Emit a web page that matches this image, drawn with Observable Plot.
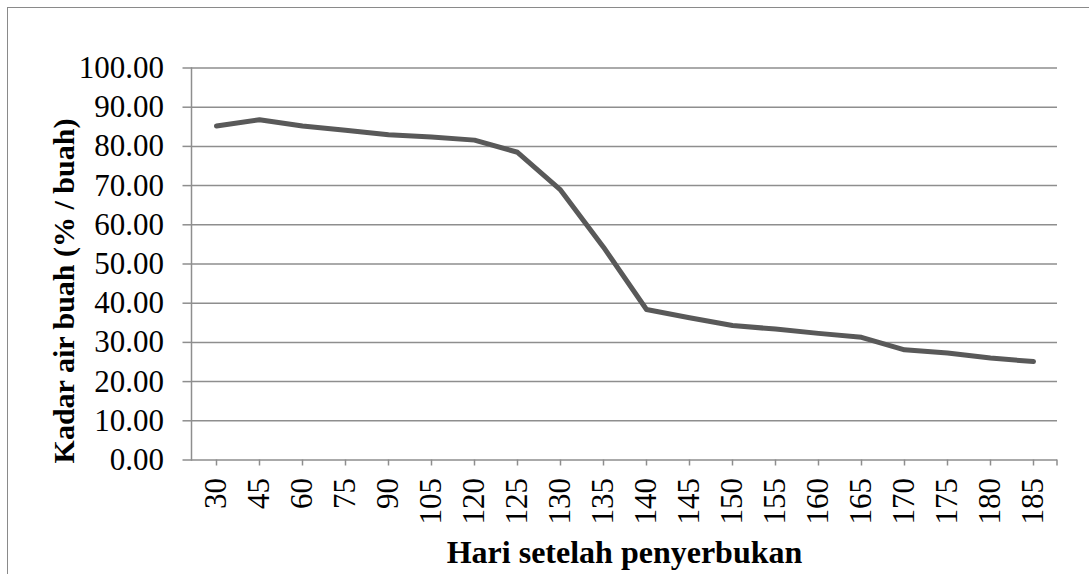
<!DOCTYPE html>
<html>
<head>
<meta charset="utf-8">
<script src="https://cdn.jsdelivr.net/npm/d3@7"></script>
<script src="https://cdn.jsdelivr.net/npm/@observablehq/plot@0.6"></script>
<style>
  html, body { margin: 0; padding: 0; background: #fff; }
  #wrap { position: relative; width: 1089px; height: 574px; overflow: hidden; }
  #border { position: absolute; left: 7px; top: 7px; right: -10px; bottom: -10px;
            border-left: 1.5px solid #8a8a8a; border-top: 1.5px solid #8a8a8a; pointer-events: none; }
  svg text { font-family: 'Liberation Serif', 'Times New Roman', serif; }
</style>
</head>
<body>
<div id="wrap"><div id="border"></div></div>
<script>
const days = ["30","45","60","75","90","105","120","125","130","135","140","145","150","155","160","165","170","175","180","185"];
const kadarAir = [85.2, 86.8, 85.2, 84.1, 83.0, 82.4, 81.6, 78.5, 68.9, 54.3, 38.4, 36.3, 34.3, 33.4, 32.3, 31.3, 28.1, 27.3, 26.0, 25.1];
const yTicks = [0, 10, 20, 30, 40, 50, 60, 70, 80, 90, 100];
const xTitle = "Hari setelah penyerbukan";
const yTitle = "Kadar air buah (% / buah)";

const data = days.map((d, i) => ({day: d, value: kadarAir[i]}));
const grid = "#8e8e8e";

// small closing tick at the right end of the category axis
function endTick(index, scales, values, dims) {
  const x = dims.width - dims.marginRight;
  const y = dims.height - dims.marginBottom;
  const g = d3.create("svg:g");
  g.append("line").attr("x1", x).attr("x2", x).attr("y1", y).attr("y2", y + 6)
    .attr("stroke", grid).attr("stroke-width", 1.5);
  return g.node();
}

const chart = Plot.plot({
  width: 1089,
  height: 574,
  marginLeft: 191,
  marginRight: 32,
  marginTop: 67.5,
  marginBottom: 114.5,
  style: {fontFamily: "'Liberation Serif', 'Times New Roman', serif", fontSize: "31px", color: "black", background: "transparent"},
  x: {type: "point", domain: days, padding: 0.5},
  y: {domain: [0, 100]},
  marks: [
    Plot.ruleY(yTicks, {stroke: grid, strokeWidth: 1.5}),
    Plot.frame({anchor: "left", stroke: grid, strokeWidth: 1.5}),
    Plot.axisY({ticks: yTicks, tickFormat: d3.format(".2f"), tickSize: 8.5, tickPadding: 19, stroke: grid, strokeWidth: 1.5, fill: "black", label: null, fontSize: 31}),
    Plot.axisX({tickSize: 6, tickPadding: 12, tickRotate: -90, stroke: grid, strokeWidth: 1.5, fill: "black", label: null, fontSize: 31}),
    endTick,
    Plot.line(data, {x: "day", y: "value", stroke: "#595959", strokeWidth: 5, strokeLinecap: "round", strokeLinejoin: "round"}),
    Plot.text([xTitle], {frameAnchor: "bottom", dy: 93, text: d => d, fontWeight: "bold", fontSize: 32, fill: "black", lineAnchor: "middle", textAnchor: "middle"}),
    Plot.text([yTitle], {frameAnchor: "left", dx: -127, dy: 27, rotate: -90, text: d => d, fontWeight: "bold", fontSize: 30, fill: "black", lineAnchor: "middle", textAnchor: "middle"})
  ]
});
document.getElementById("wrap").prepend(chart);
</script>
</body>
</html>
